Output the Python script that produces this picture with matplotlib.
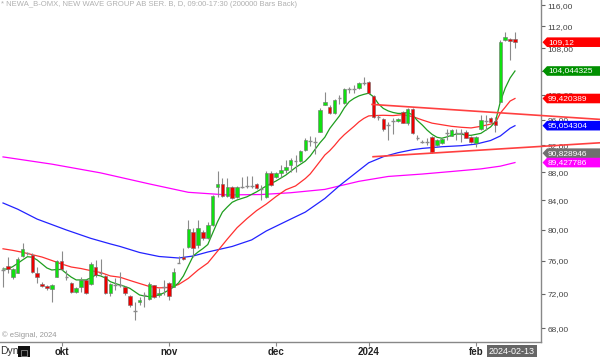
import numpy as np
import matplotlib.pyplot as plt
import matplotlib.transforms as mtransforms
from matplotlib.patches import Rectangle, Polygon

plt.rcParams['font.family'] = ['Liberation Sans', 'DejaVu Sans']

# daily bars 2023-09-14 .. 2024-02-13 (x = trading day index)
opens = [74.9, 75.38, 74.06, 74.55, 76.63, 76.95, 76.80, 74.55, 73.17, 72.93,
         72.53, 74.06, 76.04, 74.06, 73.33, 72.24, 72.84, 73.66, 73.17, 75.29,
         74.48, 74.15, 72.12, 73.01, 73.05, 72.84, 71.75, 70.0, 70.98, 71.85,
         71.43, 73.05, 71.85, 72.84, 73.33, 72.84, 75.79, 76.54, 77.82, 79.78,
         78.04, 79.78, 78.9, 80.67, 85.86, 86.33, 84.6, 85.95, 84.5, 85.95,
         86.04, 86.04, 86.33, 85.66, 84.5, 87.96, 87.3, 87.87, 88.35, 89.07,
         89.67, 89.67, 91.3, 92.7, 92.55, 94.1, 98.37, 98.1, 97.0, 99.45,
         98.75, 100.95, 101.05, 101.1, 101.97, 102.25, 99.85, 96.4, 96.05, 95.2,
         95.85, 95.85, 97.3, 95.4, 97.7, 93.2, 92.55, 92.5, 93.35, 92.07,
         92.3, 93.85, 93.45, 93.85, 93.85, 94.1, 93.35, 92.4, 94.6, 95.85,
         96.2, 95.85, 98.9, 109.5, 109.65, 109.65]
highs = [75.3, 76.47, 75.09, 76.47, 78.34, 77.18, 76.97, 75.29, 73.45, 73.05,
         73.2, 76.13, 77.31, 74.88, 73.45, 72.84, 74.06, 73.75, 75.91, 76.13,
         76.21, 74.3, 73.3, 73.87, 74.63, 72.9, 71.8, 71.05, 71.6, 72.24,
         73.45, 73.1, 72.65, 73.66, 73.45, 75.09, 76.63, 77.6, 81.3, 80.2,
         81.3, 80.0, 81.0, 84.8, 88.25, 87.14, 87.14, 86.1, 86.1, 87.3,
         87.5, 87.5, 86.5, 86.2, 88.25, 88.25, 88.0, 89.07, 89.8, 90.07,
         90.55, 91.3, 93.1, 93.45, 93.25, 97.8, 100.55, 98.3, 99.4, 100.0,
         101.1, 101.4, 101.7, 102.1, 103.1, 102.4, 100.0, 96.75, 96.2, 95.7,
         96.2, 96.3, 97.45, 97.8, 97.8, 93.55, 92.8, 93.1, 93.5, 93.0,
         93.1, 94.6, 94.5, 94.6, 94.6, 94.3, 93.5, 93.5, 96.75, 96.75,
         96.4, 96.4, 109.5, 110.9, 109.8, 110.9]
lows = [72.8, 74.48, 73.75, 74.48, 76.54, 76.80, 74.48, 73.26, 72.84, 72.5,
        71.0, 73.99, 74.88, 73.66, 72.12, 72.12, 72.24, 72.0, 73.05, 74.06,
        74.27, 72.0, 71.75, 72.45, 72.84, 71.9, 70.4, 68.9, 70.7, 70.44,
        71.2, 71.5, 71.6, 71.85, 71.2, 72.8, 75.7, 76.13, 77.7, 76.54,
        77.7, 78.7, 78.8, 80.5, 84.5, 84.5, 84.5, 84.2, 84.4, 85.7,
        85.8, 85.8, 85.6, 84.07, 84.3, 86.0, 87.2, 87.38, 87.87, 88.1,
        88.1, 89.5, 91.2, 91.9, 90.7, 94.0, 98.3, 96.9, 96.9, 98.6,
        98.6, 100.3, 100.3, 101.0, 101.7, 100.2, 96.3, 95.95, 94.2, 92.8,
        93.8, 95.6, 95.4, 95.2, 93.8, 92.8, 92.3, 92.1, 90.8, 91.9,
        92.2, 92.8, 93.4, 92.8, 92.55, 93.1, 92.4, 91.8, 94.3, 94.3,
        95.5, 94.1, 98.8, 109.3, 105.95, 108.15]
closes = [74.9, 74.96, 74.96, 76.21, 77.56, 76.95, 74.63, 74.06, 72.93, 72.65,
          73.05, 76.04, 74.96, 74.06, 72.24, 72.72, 73.66, 72.12, 75.63, 74.27,
          74.48, 72.12, 73.17, 73.01, 73.05, 72.05, 70.67, 70.0, 71.3, 71.85,
          73.13, 71.6, 72.12, 72.84, 71.75, 74.67, 75.79, 76.21, 80.09, 77.6,
          80.3, 78.9, 80.67, 84.6, 86.33, 84.6, 85.95, 84.3, 85.95, 85.95,
          86.04, 86.04, 85.7, 85.66, 87.96, 86.19, 87.87, 88.35, 88.82, 89.82,
          89.67, 91.16, 92.8, 92.7, 92.55, 97.6, 98.9, 97.0, 99.18, 99.45,
          100.95, 100.95, 101.05, 101.97, 101.97, 100.3, 96.4, 96.4, 94.6, 95.2,
          95.85, 96.05, 95.5, 97.65, 93.9, 93.2, 92.55, 92.5, 91.05, 92.8,
          92.95, 93.85, 94.3, 93.85, 93.85, 93.2, 92.55, 93.35, 95.95, 95.85,
          95.7, 95.2, 109.2, 110.0, 109.3, 109.12]

month_pos = [12, 34, 56, 75, 97]
month_labels = ['okt', 'nov', 'dec', '2024', 'feb']

# moving averages at these bar indices
green_idx = list(range(0, 49)) + [50, 52, 54, 56, 58, 60, 62] + list(range(63, 106))
green_ma = [75.0, 75.0, 75.3, 75.7, 76.13, 76.54, 76.48, 76.13, 75.63, 75.13,
            74.88, 74.94, 74.94, 74.45, 74.0, 73.66, 73.66, 73.66, 73.9, 74.27,
            74.15, 73.9, 73.45, 73.23, 73.05, 72.87, 72.65, 72.25, 71.85, 71.73,
            71.65, 71.73, 71.85, 72.1, 72.45, 72.8, 73.3, 74.15, 75.38, 76.63,
            77.14, 77.58, 78.1, 79.6, 81.1, 82.4, 83.1, 83.75, 84.07,
            84.5, 85.2, 86.04, 86.75, 87.6, 88.7, 89.65,
            90.4, 91.4, 92.4, 93.25, 94.6, 95.6, 96.6, 97.9, 98.9, 99.45,
            99.85, 100.1, 100.3, 99.7, 98.55, 97.8, 97.4, 97.15, 97.0, 97.0,
            97.15, 96.75, 95.85, 95.15, 94.35, 93.7, 93.25, 93.1, 93.3, 93.55,
            93.75, 93.75, 93.55, 93.55, 93.7, 93.85, 94.35, 94.85, 95.7, 98.9,
            101.15, 102.85, 104.04]

red_idx = [0, 2, 4, 6, 8, 10, 12, 14, 16, 18, 20, 22, 24, 26, 28, 30, 32, 34, 36, 38,
           40, 42, 44, 46, 48, 50, 52, 54, 56, 58, 60, 62, 63, 64, 65, 66, 67, 68, 69, 70,
           71, 72, 73, 74, 75, 76, 78, 80, 82, 84, 86, 88, 90, 92, 94, 96, 98, 100, 101, 102,
           103, 104, 105]
red_ma = [77.55, 77.35, 77.1, 76.8, 76.5, 76.07, 75.63, 75.25, 75.06, 74.8,
          74.57, 74.15, 73.99, 73.6, 73.23, 72.87, 72.7, 72.75, 73.1, 73.85,
          74.88, 75.75, 77.25, 78.8, 80.3, 81.5, 82.6, 83.5, 84.55, 85.5,
          86.04, 87.1, 87.76, 88.67, 89.6, 90.55, 91.2, 92.0, 92.9, 93.65,
          94.3, 94.95, 95.65, 96.2, 96.6, 96.65, 96.7, 96.65, 96.8, 96.5,
          95.95, 95.45, 95.2, 94.95, 94.8, 94.7, 94.95, 95.3, 95.5, 97.05,
          98.0, 99.0, 99.42]

blue_idx = [0, 3, 7, 13, 18, 22, 24, 28, 32, 36, 39, 42, 47, 51, 54, 59, 62, 66, 69, 73,
            75, 78, 81, 84, 86, 90, 94, 97, 100, 102, 104, 105]
blue_ma = [83.65, 82.8, 81.45, 80.0, 78.9, 78.18, 77.85, 77.08, 76.57, 76.38,
           76.63, 77.14, 77.85, 78.7, 79.87, 81.45, 82.4, 84.27, 86.07, 88.28,
           89.4, 90.3, 90.9, 91.35, 91.55, 91.8, 91.96, 92.2, 92.75, 93.45,
           94.65, 95.05]

magenta_idx = [0, 10, 20, 30, 38, 46, 53, 59, 66, 73, 79, 86, 92, 98, 102, 105]
magenta_ma = [90.27, 89.2, 87.92, 86.33, 85.14, 84.77, 84.83, 85.08, 85.55, 86.7,
              87.4, 87.75, 88.12, 88.5, 88.9, 89.43]

# drawn trend lines (start, end)
upper_trend_x = [75.7, 122.4]
upper_trend_y = [98.45, 96.05]
lower_trend_x = [75.9, 122.4]
lower_trend_y = [90.3, 92.4]

# last-value tags on the price scale
tag_values = [109.12, 104.044325, 99.420389, 95.054304, 90.828946, 89.427786]
tag_texts = ['109,12', '104,044325', '99,420389', '95,054304', '90,828946', '89,427786']
tag_colors = ['#ff0000', '#009000', '#ff0000', '#0000ff', '#707070', '#ff00ff']

price_ticks = list(range(68, 117, 4))

fig = plt.figure(figsize=(6, 3.57), dpi=100)
ax = fig.add_axes([0, 15.3 / 357, 541 / 600, 341.7 / 357])

# moving averages
ax.plot(magenta_idx, magenta_ma, color='#ff00ff', lw=0.9, zorder=1)
ax.plot(blue_idx, blue_ma, color='#2222ff', lw=0.9, zorder=1)
ax.plot(red_idx, red_ma, color='#ff3030', lw=0.9, zorder=1)
ax.plot(green_idx, green_ma, color='#1e9e1e', lw=0.9, zorder=1)

# candles
x = np.arange(len(closes))
o = np.array(opens)
c = np.array(closes)
ax.vlines(x, lows, highs, color='#8a8a8a', lw=0.8, zorder=2)
up = c - o > 0.01
down = o - c > 0.01
flat = ~(up | down)
ax.bar(x[up], (c - o)[up], bottom=o[up], width=0.72, color='#10e010',
       edgecolor='#707070', linewidth=0.4, zorder=3)
ax.bar(x[down], (o - c)[down], bottom=c[down], width=0.72, color='#ee0000',
       edgecolor='#707070', linewidth=0.4, zorder=3)
ax.hlines(c[flat], x[flat] - 0.38, x[flat] + 0.38, color='#8a8a8a', lw=1.0, zorder=3)

# trend lines
ax.plot(upper_trend_x, upper_trend_y, color='#ff4040', lw=1.2, clip_on=False, zorder=4)
ax.plot(lower_trend_x, lower_trend_y, color='#ff4040', lw=1.2, clip_on=False, zorder=4)

ax.set_yscale('log')
ax.set_ylim(66.51, 117.0)
ax.set_xlim(-0.62, 110.34)

ax.yaxis.tick_right()
ax.set_yticks(price_ticks)
ax.set_yticklabels([f'{t:.2f}'.replace('.', ',') for t in price_ticks])
ax.yaxis.set_minor_locator(plt.NullLocator())
ax.tick_params(axis='y', direction='out', length=3, width=0.8, color='#666666',
               labelsize=6, labelcolor='#444444', pad=1.5)

ax.set_xticks(month_pos)
ax.set_xticklabels(month_labels, fontweight='bold')
ax.tick_params(axis='x', direction='out', length=3, width=0.8, color='#888888',
               labelsize=7, labelcolor='#222222', pad=1)

for side in ['left', 'top']:
    ax.spines[side].set_visible(False)
for side in ['right', 'bottom']:
    ax.spines[side].set_color('#888888')
    ax.spines[side].set_linewidth(1.0)

# price tags: arrow shaped boxes drawn in pixels, text on top
trans = mtransforms.blended_transform_factory(ax.transAxes, ax.transData)
x0 = ax.transAxes.transform((1.0, 0))[0] + 1.5
fig_w = fig.bbox.width
half = 4.8
for v, t, col in zip(tag_values, tag_texts, tag_colors):
    yp = trans.transform((1.0, v))[1]
    pts = [(x0, yp), (x0 + 4.5, yp + half), (fig_w, yp + half),
           (fig_w, yp - half), (x0 + 4.5, yp - half)]
    fig.patches.append(Polygon(pts, closed=True, transform=mtransforms.IdentityTransform(),
                               facecolor=col, edgecolor='none', zorder=2))
    fig.text((x0 + 5.5) / fig_w, fig.transFigure.inverted().transform((0, yp))[1], t,
             ha='left', va='center', fontsize=6, color='white', zorder=3)

fig.text(0.002, 0.997, '* NEWA_B-OMX, NEW WAVE GROUP AB SER. B, D, 09:00-17:30 (200000 Bars Back)',
         ha='left', va='top', fontsize=5.5, color='#b0b0b0')
fig.text(0.003, 1 - 335 / 357, '\u00a9 eSignal, 2024', ha='left', va='center',
         fontsize=5.5, color='#999999')
fig.text(0.0, 1 - 351 / 357, 'Dyn', ha='left', va='center', fontsize=7.5, color='#333333')
fig.patches.append(Rectangle((18 / 600, 0), 12 / 600, 11 / 357, transform=fig.transFigure,
                             facecolor='#111111', edgecolor='none'))
fig.patches.append(Rectangle((21 / 600, 1 / 357), 6 / 600, 6 / 357, transform=fig.transFigure,
                             facecolor='none', edgecolor='#888888', linewidth=0.6))
fig.text(489 / 600, 1 - 351 / 357, '2024-02-13', ha='left', va='center', fontsize=6.5,
         color='white', bbox=dict(boxstyle='square,pad=0.2', fc='#666666', ec='none'))

fig.savefig('out.png', dpi=100)
